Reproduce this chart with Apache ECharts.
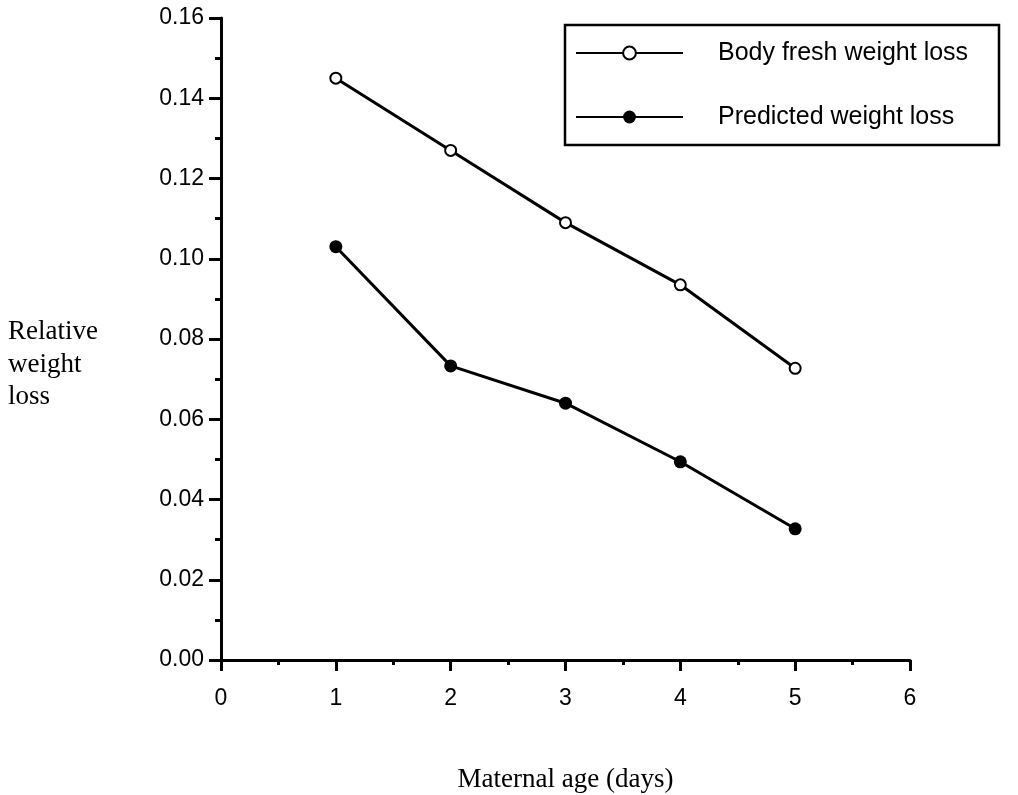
<!DOCTYPE html>
<html>
<head>
<meta charset="utf-8">
<script src="https://cdn.jsdelivr.net/npm/echarts@6/dist/echarts.min.js"></script>
<style>
html,body{margin:0;padding:0;background:#fff;}
#chart{width:1018px;height:795px;}
</style>
</head>
<body>
<div id="chart"></div>
<script>
// Data
const ages = [1, 2, 3, 4, 5];
const bodyFreshLoss = [0.145, 0.127, 0.109, 0.0935, 0.0727];
const predictedLoss = [0.103, 0.0733, 0.064, 0.0494, 0.0327];
const seriesNames = ['Body fresh weight loss', 'Predicted weight loss'];
const xTitle = 'Maternal age (days)';
const yTitle = 'Relative\nweight\nloss';

const pair = (xs, ys) => xs.map((x, i) => [x, ys[i]]);

const chart = echarts.init(document.getElementById('chart'), null, {renderer: 'canvas'});
const sans = 'Liberation Sans, Arial, Helvetica, sans-serif';
const serif = 'Liberation Serif, Times New Roman, serif';
const LW = 3;

chart.setOption({
  backgroundColor: '#fff',
  animation: false,
  title: {
    text: yTitle,
    left: 3,
    top: 311,
    textStyle: {fontFamily: serif, fontSize: 27, fontWeight: 'normal', color: '#000', lineHeight: 32.5}
  },
  grid: {left: 221, right: 108, top: 18, bottom: 135, containLabel: false, outerBoundsMode: 'none'},
  legend: {
    orient: 'vertical',
    left: 565,
    top: 25,
    padding: [13, 30, 13, 10],
    itemGap: 34,
    itemWidth: 107,
    itemHeight: 16,
    borderColor: '#000',
    borderWidth: 2.5,
    borderRadius: 0,
    textStyle: {fontFamily: sans, fontSize: 25, color: '#000', lineHeight: 30, width: 251, padding: [0, 0, 0, 30]},
    data: seriesNames
  },
  xAxis: {
    type: 'value',
    min: 0, max: 6, interval: 1,
    name: xTitle,
    nameLocation: 'middle',
    nameGap: 106,
    nameTextStyle: {fontFamily: serif, fontSize: 27, color: '#000'},
    axisLine: {show: true, onZero: false, lineStyle: {color: '#000', width: LW}},
    axisTick: {show: true, inside: false, length: 11, lineStyle: {color: '#000', width: LW}},
    minorTick: {show: true, splitNumber: 2, length: 5, lineStyle: {color: '#000', width: LW}},
    splitLine: {show: false},
    axisLabel: {fontFamily: sans, fontSize: 23, color: '#000', margin: 27}
  },
  yAxis: {
    type: 'value',
    min: 0, max: 0.16, interval: 0.02,
    axisLine: {show: true, onZero: false, lineStyle: {color: '#000', width: LW}},
    axisTick: {show: true, inside: false, length: 12, lineStyle: {color: '#000', width: LW}},
    minorTick: {show: true, splitNumber: 2, length: 6, lineStyle: {color: '#000', width: LW}},
    splitLine: {show: false},
    axisLabel: {fontFamily: sans, fontSize: 23, color: '#000', margin: 17,
      formatter: v => v.toFixed(2)}
  },
  series: [
    {
      name: seriesNames[0],
      type: 'line',
      data: pair(ages, bodyFreshLoss),
      symbol: 'emptyCircle',
      symbolSize: 11,
      showAllSymbol: true,
      color: '#000',
      lineStyle: {color: '#000', width: LW},
      itemStyle: {color: '#000', borderColor: '#000', borderWidth: 3},
      z: 3
    },
    {
      name: seriesNames[1],
      type: 'line',
      data: pair(ages, predictedLoss),
      symbol: 'circle',
      symbolSize: 13,
      showAllSymbol: true,
      color: '#000',
      lineStyle: {color: '#000', width: LW},
      itemStyle: {color: '#000'},
      z: 3
    }
  ]
});
</script>
</body>
</html>
